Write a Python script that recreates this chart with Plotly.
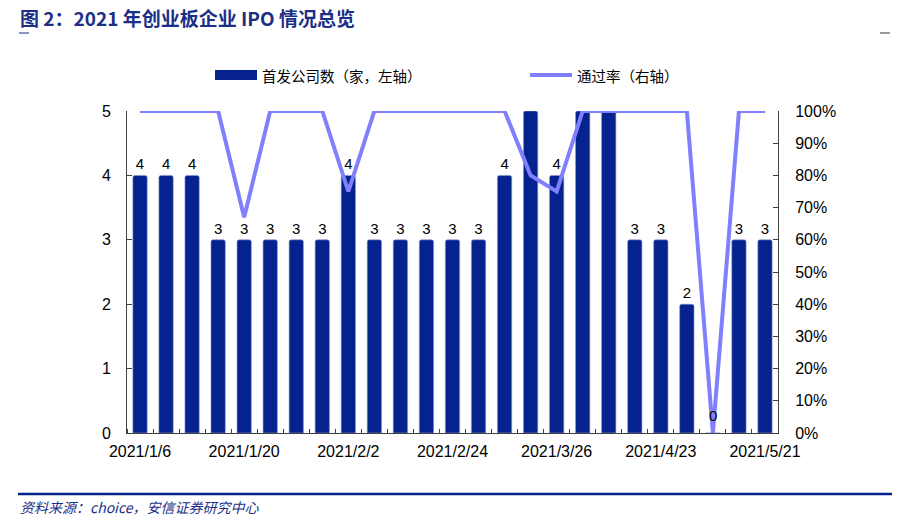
import plotly.graph_objects as go

dates = ["2021/1/6", "2021/1/8", "2021/1/13", "2021/1/15", "2021/1/20", "2021/1/22",
         "2021/1/27", "2021/1/29", "2021/2/2", "2021/2/4", "2021/2/9", "2021/2/19",
         "2021/2/24", "2021/3/3", "2021/3/10", "2021/3/17", "2021/3/26", "2021/4/2",
         "2021/4/9", "2021/4/16", "2021/4/23", "2021/4/30", "2021/5/7", "2021/5/14",
         "2021/5/21"]
ipo_count = [4, 4, 4, 3, 3, 3, 3, 3, 4, 3, 3, 3, 3, 3, 4, 5, 4, 5, 5, 3, 3, 2, 0, 3, 3]
pass_rate = [1, 1, 1, 1, 0.67, 1, 1, 1, 0.75, 1, 1, 1, 1, 1, 1, 0.80, 0.75, 1, 1, 1, 1, 1, 0, 1, 1]

left_max = 5
idx = list(range(len(dates)))
bar_text = [str(v) if 0 < v < left_max else "" for v in ipo_count]

W, H = 912, 519
L, R, T, B = 127, 134, 111, 86
PW, PH = W - L - R, H - T - B

def px(x):
    return (x - L) / PW

def py(y):
    return (H - B - y) / PH

NAVY = "#05228f"
LINE = "#8080ff"
TXT_NAVY = "#1b2f86"
FONT = "Liberation Sans, Arial, Noto Sans CJK SC, sans-serif"
CJK = "Noto Sans CJK SC, Liberation Sans, sans-serif"

fig = go.Figure()
fig.add_trace(go.Bar(
    x=idx, y=ipo_count, name="首发公司数（家，左轴）",
    marker=dict(color=NAVY, line=dict(color="#8c9ad0", width=0.6), cornerradius=2),
    width=0.55, text=bar_text, textposition="outside", constraintext="none",
    textfont=dict(family=FONT, size=15, color="#000000"), cliponaxis=True,
    showlegend=False,
))
fig.add_trace(go.Scatter(
    x=idx, y=pass_rate, name="通过率（右轴）", yaxis="y2", mode="lines",
    line=dict(color=LINE, width=4), showlegend=False,
))

fig.update_layout(
    width=W, height=H,
    margin=dict(l=L, r=R, t=T, b=B),
    paper_bgcolor="white", plot_bgcolor="white",
    font=dict(family=FONT, size=14, color="#000000"),
    xaxis=dict(
        range=[-0.5, len(dates) - 0.5],
        tickvals=idx[::4], ticktext=dates[::4], ticks="",
        showline=True, linecolor="#404040", linewidth=1, showgrid=False, zeroline=False,
        tickfont=dict(family=FONT, size=16, color="#000000"), ticklabelstandoff=4,
        minor=dict(ticks="inside", ticklen=4, tick0=-0.5, dtick=1, tickcolor="#404040", showgrid=False),
    ),
    yaxis=dict(
        range=[0, 5], dtick=1, ticks="inside", ticklen=5, tickcolor="#404040",
        showline=True, linecolor="#404040", linewidth=1, showgrid=False, zeroline=False,
        tickfont=dict(family=FONT, size=16, color="#000000"), ticklabelstandoff=12,
    ),
    yaxis2=dict(
        range=[0, 1], dtick=0.1, tickformat=".0%", overlaying="y", side="right",
        ticks="inside", ticklen=5, tickcolor="#404040",
        showline=True, linecolor="#404040", linewidth=1, showgrid=False, zeroline=False,
        tickfont=dict(family=FONT, size=16, color="#000000"), ticklabelstandoff=13,
    ),
)

shapes = [
    dict(type="rect", xref="paper", yref="paper", x0=px(215), x1=px(257), y0=py(80), y1=py(70),
         fillcolor=NAVY, line=dict(width=0)),
    dict(type="line", xref="paper", yref="paper", x0=px(530), x1=px(572), y0=py(75), y1=py(75),
         line=dict(color=LINE, width=4)),
    dict(type="line", xref="paper", yref="paper", x0=px(19), x1=px(29), y0=py(33), y1=py(33),
         line=dict(color=TXT_NAVY, width=1)),
    dict(type="line", xref="paper", yref="paper", x0=px(880), x1=px(890), y0=py(33), y1=py(33),
         line=dict(color="#333333", width=1)),
    dict(type="line", xref="paper", yref="paper", x0=px(18), x1=px(892), y0=py(494), y1=py(494),
         line=dict(color=NAVY, width=2.5)),
]
fig.update_layout(shapes=shapes)

annotations = [
    dict(text="首发公司数（家，左轴）", xref="paper", yref="paper", x=px(260), y=py(75),
         xanchor="left", yanchor="middle", showarrow=False,
         font=dict(family=CJK, size=14.5, color="#000000")),
    dict(text="通过率（右轴）", xref="paper", yref="paper", x=px(575), y=py(75),
         xanchor="left", yanchor="middle", showarrow=False,
         font=dict(family=CJK, size=14.5, color="#000000")),
    dict(text="<b>图 2：2021 年创业板企业 IPO 情况总览</b>", xref="paper", yref="paper",
         x=px(18), y=py(17), xanchor="left", yanchor="middle", showarrow=False,
         font=dict(family=CJK, size=19, color=TXT_NAVY)),
    dict(text="<i>资料来源：choice，安信证券研究中心</i>", xref="paper", yref="paper",
         x=px(18), y=py(507), xanchor="left", yanchor="middle", showarrow=False,
         font=dict(family=CJK, size=14, color=TXT_NAVY)),
]
# value label for zero-height bars (Plotly does not draw text on empty bars)
for i, v in zip(idx, ipo_count):
    if v == 0:
        annotations.append(dict(text=str(v), x=i, y=v, xref="x", yref="y", yshift=18,
                                showarrow=False, font=dict(family=FONT, size=15, color="#000000")))
fig.update_layout(annotations=annotations)

fig.write_html("out.html")
